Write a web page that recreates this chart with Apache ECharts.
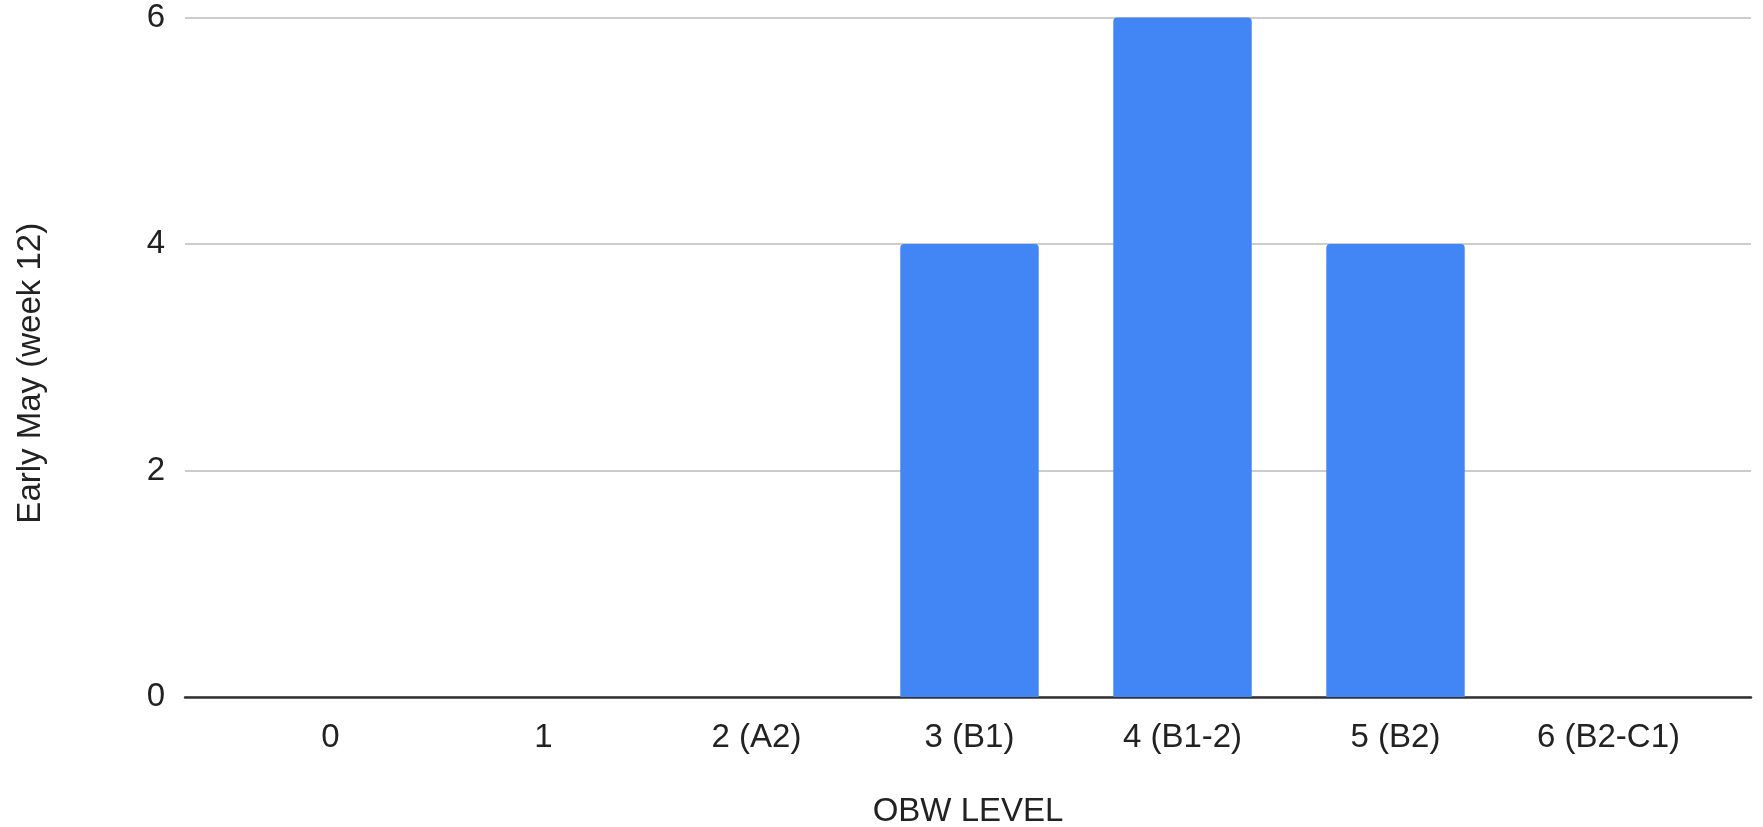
<!DOCTYPE html>
<html>
<head>
<meta charset="utf-8">
<style>
  html, body { margin: 0; padding: 0; background: #ffffff; }
  #chart { width: 1763px; height: 827px; }
</style>
<script src="https://cdn.jsdelivr.net/npm/echarts@6/dist/echarts.min.js"></script>
</head>
<body>
<div id="chart"></div>
<script>
// OBW level categories and counts for early May (week 12)
const categories = ['0', '1', '2 (A2)', '3 (B1)', '4 (B1-2)', '5 (B2)', '6 (B2-C1)'];
const counts = [0, 0, 0, 4, 6, 4, 0];
const yTicks = [0, 2, 4, 6];

const xTitle = 'OBW LEVEL';
const yTitle = 'Early May (week 12)';

const FONT = '"Liberation Sans", Arial, sans-serif';
const TEXT = '#222222';
const SIZE = 33;

const chart = echarts.init(document.getElementById('chart'), null, { renderer: 'canvas' });

chart.setOption({
  animation: false,
  backgroundColor: '#ffffff',
  textStyle: { fontFamily: FONT },
  grid: [
    // frame grid: gridlines and baseline span the full plot width
    { left: 185, right: 12, top: 17.5, bottom: 130, containLabel: false, outerBoundsMode: 'none' },
    // bar grid: categories are inset from the frame edges
    { left: 224, right: 48, top: 17.5, bottom: 130, containLabel: false, outerBoundsMode: 'none' }
  ],
  xAxis: [
    {
      gridIndex: 0,
      type: 'value',
      min: 0,
      max: 1,
      axisLine: { show: true, lineStyle: { color: '#333333', width: 2.5 } },
      axisTick: { show: false },
      axisLabel: { show: false },
      splitLine: { show: false },
      name: xTitle,
      nameLocation: 'middle',
      nameGap: 98,
      nameTextStyle: { fontSize: SIZE, color: TEXT, fontFamily: FONT }
    },
    {
      gridIndex: 1,
      type: 'category',
      data: categories,
      axisLine: { show: false },
      axisTick: { show: false },
      axisLabel: { fontSize: SIZE, color: TEXT, margin: 24, fontFamily: FONT, interval: 0 }
    }
  ],
  yAxis: [
    {
      gridIndex: 0,
      type: 'value',
      min: yTicks[0],
      max: yTicks[yTicks.length - 1],
      interval: yTicks[1] - yTicks[0],
      axisLine: { show: false },
      axisTick: { show: false },
      axisLabel: { fontSize: SIZE, color: TEXT, margin: 20, fontFamily: FONT },
      splitLine: { show: true, lineStyle: { color: '#cccccc', width: 2 } },
      name: yTitle,
      nameLocation: 'middle',
      nameGap: 138,
      nameTextStyle: { fontSize: SIZE, color: TEXT, fontFamily: FONT, padding: [0, 32, 0, 0] }
    },
    {
      gridIndex: 1,
      type: 'value',
      min: yTicks[0],
      max: yTicks[yTicks.length - 1],
      show: false,
      splitLine: { show: false }
    }
  ],
  series: [
    {
      type: 'bar',
      xAxisIndex: 1,
      yAxisIndex: 1,
      data: counts,
      barWidth: '65%',
      itemStyle: { color: '#4285F4', borderRadius: [4, 4, 0, 0] }
    }
  ]
});
</script>
</body>
</html>
